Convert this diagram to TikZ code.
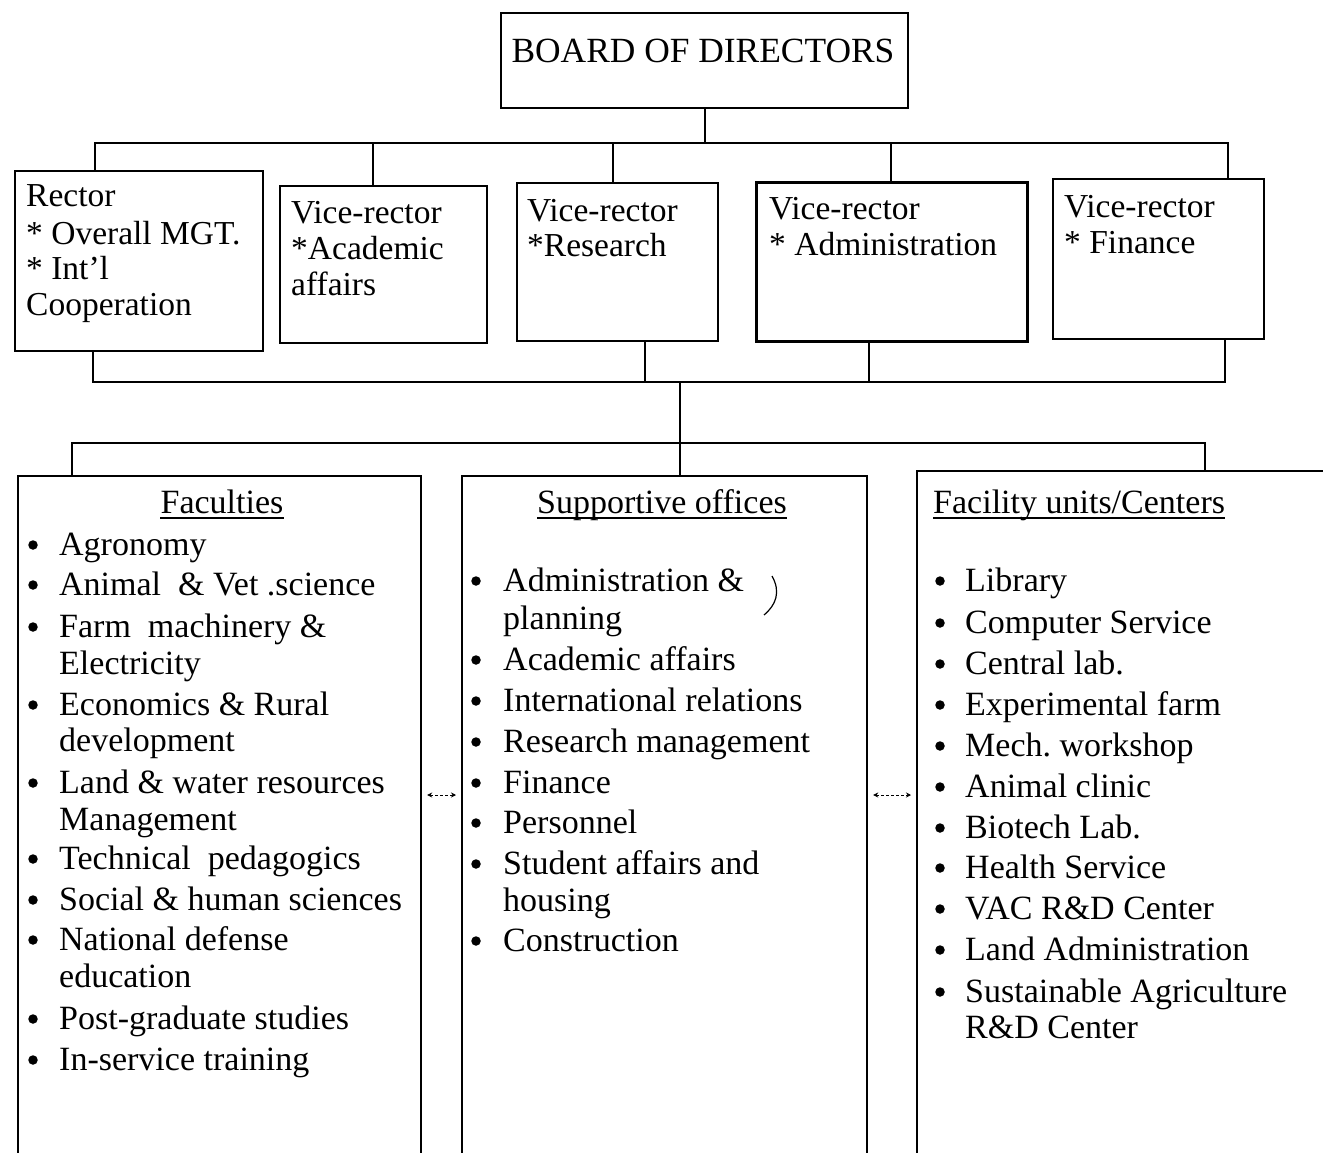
\documentclass[tikz,border=0pt]{standalone}
\usepackage{fontspec}
\setmainfont{Liberation Serif}
\usetikzlibrary{arrows.meta}
\frenchspacing

\tikzset{
  box/.style={draw, line width=2.2pt, inner sep=0pt, anchor=north west},
  wire/.style={line width=2.2pt},
  txt/.style={anchor=base west, inner sep=0pt, font=\fontsize{33.5}{36}\selectfont},
  item/.style={anchor=base west, inner sep=0pt, font=\fontsize{34}{38}\selectfont},
  head/.style={anchor=base, inner sep=0pt, font=\fontsize{34}{38}\selectfont},
  bul/.style={circle, fill, inner sep=0pt, minimum size=9.5pt},
  link/.style={line width=1pt, dash pattern=on 3pt off 2pt,
    {Stealth[length=5pt,width=5pt]}-{Stealth[length=5pt,width=5pt]}},
}

\begin{document}
\begin{tikzpicture}[x=1pt, y=-1pt]
\useasboundingbox (0,0) rectangle (1323,1153);
\clip (0,0) rectangle (1323,1153);
\fill[white] (0,0) rectangle (1323,1153);

% ---- top level
\node[box, minimum width=407pt, minimum height=95pt] (board) at (500,12) {};
\node[head, font=\fontsize{35.4}{38}\selectfont] (boardtxt) at (703,63) {BOARD OF DIRECTORS};

% ---- second level boxes
\node[box, minimum width=248pt, minimum height=180pt] (rector) at (14,170) {};
\node[box, minimum width=207pt, minimum height=157pt] (vra)    at (279,185) {};
\node[box, minimum width=201pt, minimum height=158pt] (vrr)    at (516,182) {};
\node[box, line width=3.2pt, minimum width=271pt, minimum height=159pt] (vrad) at (755,181) {};
\node[box, minimum width=211pt, minimum height=160pt] (vrf)    at (1052,178) {};

\node[txt] (r1) at (26,207) {Rector};
\node[txt] (r2) at (26,244) {* Overall MGT.};
\node[txt] (r3) at (26,279) {* Int'l};
\node[txt] (r4) at (26,315) {Cooperation};

\node[txt] (a1) at (291,223) {Vice-rector};
\node[txt] (a2) at (291,259) {*Academic};
\node[txt] (a3) at (291,295) {affairs};

\node[txt] (s1) at (527,221) {Vice-rector};
\node[txt] (s2) at (527,256) {*Research};

\node[txt] (d1) at (769,219) {Vice-rector};
\node[txt] (d2) at (769,255) {* Administration};

\node[txt] (f1) at (1064,218) {Vice-rector};
\node[txt] (f2) at (1064,253) {* Finance};

% ---- bus from the board to the second level
\coordinate (busL) at (95,143);
\coordinate (busR) at (1228,143);
\coordinate (dropA) at (373,143);
\coordinate (dropR) at (613,143);
\coordinate (dropD) at (891,143);
\draw[wire] (board.south) -- (board.south |- busL);
\draw[wire] (busL |- rector.north) -- (busL) -- (busR) -- (busR |- vrf.north);
\draw[wire] (dropA) -- (dropA |- vra.north);
\draw[wire] (dropR) -- (dropR |- vrr.north);
\draw[wire] (dropD) -- (dropD |- vrad.north);

% ---- bus gathering the second level
\coordinate (lowL) at (93,382);
\coordinate (lowR) at (1225,382);
\coordinate (upR) at (645,382);
\coordinate (upD) at (869,382);
\coordinate (stemA) at (680,382);
\coordinate (stemB) at (680,443);
\draw[wire] (lowL |- rector.south) -- (lowL) -- (lowR) -- (lowR |- vrf.south);
\draw[wire] (upR) -- (upR |- vrr.south);
\draw[wire] (upD) -- (upD |- vrad.south);
\draw[wire] (stemA) -- (stemB);

% ---- third level boxes
\node[box, minimum width=403pt, minimum height=720pt] (fac) at (17,475) {};
\node[box, minimum width=405pt, minimum height=720pt] (sup) at (461,475) {};
\node[box, minimum width=460pt, minimum height=720pt] (fcl) at (916,470) {};

\coordinate (thL) at (72,443);
\coordinate (thR) at (1205,443);
\draw[wire] (thL |- fac.north) -- (thL) -- (thR) -- (thR |- fcl.north);
\draw[wire] (stemB) -- (stemB |- sup.north);

% ---- links between the third level boxes
\coordinate (lk) at (0,795);
\draw[link, shorten <=5pt, shorten >=5pt] (fac.east |- lk) -- (sup.west |- lk);
\draw[link, shorten <=5pt, shorten >=5pt] (sup.east |- lk) -- (fcl.west |- lk);

% ---- headings
\node[head] (hfac) at (222,513) {Faculties};
\node[head] (hsup) at (662,513) {Supportive offices};
\node[item] (hfcl) at (933,513) {Facility units/Centers};
\foreach \h in {hfac,hsup,hfcl}
  \draw[line width=1.4pt] ([yshift=-5pt]\h.base west) -- ([yshift=-5pt]\h.base east);

% ---- faculties
\foreach \y/\b/\t [count=\i] in {
  555/1/Agronomy, 595/1/{Animal\ \ \& Vet .science}, 637/1/{Farm\ \ machinery \&},
  674/0/Electricity, 715/1/{Economics \& Rural}, 751/0/development,
  793/1/{Land \& water resources}, 830/0/Management, 869/1/{Technical\ \ pedagogics},
  910/1/{Social \& human sciences}, 950/1/{National defense}, 987/0/education,
  1029/1/{Post-graduate studies}, 1070/1/{In-service training}} {
  \node[item] (fac-\i) at (59,\y) {\t};
  \ifnum\b=1 \node[bul] (facb-\i) at (33,\y-10) {};\fi
}

% ---- supportive offices
\foreach \y/\b/\t [count=\i] in {
  591/1/{Administration \&}, 629/0/planning, 670/1/{Academic affairs},
  711/1/{International relations}, 752/1/{Research management}, 793/1/Finance,
  833/1/Personnel, 874/1/{Student affairs and}, 911/0/housing, 951/1/Construction} {
  \node[item] (sup-\i) at (503,\y) {\t};
  \ifnum\b=1 \node[bul] (supb-\i) at (476,\y-10) {};\fi
}
\draw[line width=1.2pt] (772,576) .. controls (781,592) and (776,605) .. (764,615);

% ---- facility units / centers
\foreach \y/\b/\t [count=\i] in {
  591/1/Library, 633/1/{Computer Service}, 674/1/{Central lab.},
  715/1/{Experimental farm}, 756/1/{Mech. workshop}, 797/1/{Animal clinic},
  838/1/{Biotech Lab.}, 878/1/{Health Service}, 919/1/{VAC R\&D Center},
  960/1/{Land Administration}, 1002/1/{Sustainable Agriculture}, 1038/0/{R\&D Center}} {
  \node[item] (fcl-\i) at (965,\y) {\t};
  \ifnum\b=1 \node[bul] (fclb-\i) at (940,\y-10) {};\fi
}
\end{tikzpicture}
\end{document}
